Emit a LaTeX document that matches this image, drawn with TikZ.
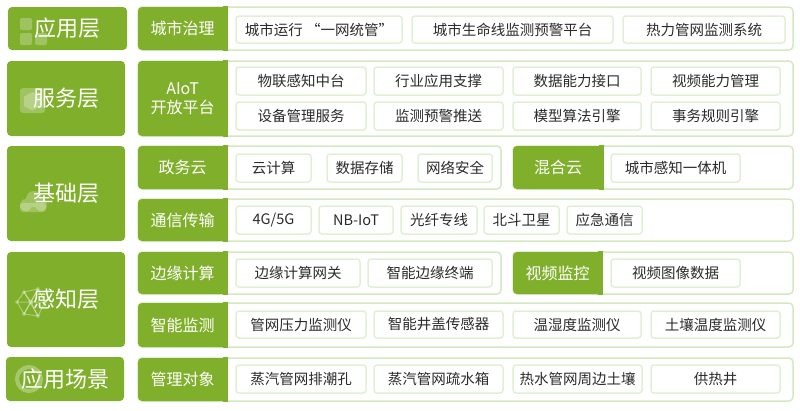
\documentclass[tikz,border=0pt]{standalone}
\usepackage{fontspec}
\setmainfont{Noto Sans CJK SC}
\definecolor{lg}{HTML}{80B02B}
\definecolor{pb}{HTML}{D3EAC0}
\definecolor{ib}{HTML}{E1F0D4}
\definecolor{tx}{HTML}{2B2B2B}
\tikzset{
 layer/.style={fill=lg, rounded corners=4pt, inner sep=0pt, outer sep=0pt, text=white, font=\fontsize{22}{24}\selectfont},
 panel/.style={draw=pb, line width=1.5pt, fill=white, rounded corners=4pt, inner sep=0pt, outer sep=0pt},
 lab/.style={fill=lg, rounded corners=4pt, inner sep=0pt, outer sep=0pt, text=white, font=\fontsize{16}{19}\selectfont, align=center},
 item/.style={draw=ib, line width=1.5pt, fill=white, rounded corners=3pt, inner sep=0pt, outer sep=0pt, text=tx, font=\fontsize{14.5}{17}\selectfont},
 icon/.style={fill=white, fill opacity=0.25, draw=none},
}
\newcommand\boxat[7]{%
 \node[#1, minimum width={(#5-#3)*1pt}, minimum height={(#6-#4)*1pt}] (#2) at ({(#3+#5)/2},{(#4+#6)/2}) {#7};}
\newcommand\labat[6]{%
 \boxat{lab}{#1}{#2-0.75}{#3-0.75}{#4}{#5+0.75}{#6}%
 \fill[lg] ({#4-5},{#3-0.75}) rectangle (#4,{#5+0.75});}
\begin{document}
\begin{tikzpicture}[x=1pt,y=-1pt]
\useasboundingbox[fill=white] (0,0) rectangle (800,410);

% ---------- layer boxes ----------
\boxat{layer}{L1}{8}{7}{127}{50}{}
\boxat{layer}{L2}{7}{61}{125}{136}{}
\boxat{layer}{L3}{7}{146}{125}{241}{}
\boxat{layer}{L4}{7}{252}{125}{347}{}
\boxat{layer}{L5}{6}{357}{124}{401}{}

% icons
\fill[icon, rounded corners=2pt] (20,18) rectangle (32,30);
\fill[icon, rounded corners=2pt] (20,33) rectangle (32,45);
\fill[icon, rounded corners=2pt] (35,33) rectangle (47,45);
\fill[icon, rounded corners=3pt] (20,88) rectangle (45,113);
\fill[icon] (32.5,92) -- (41,96.5) -- (41,106) -- (32.5,110.5) -- (24,106) -- (24,96.5) -- cycle;
\fill[icon] (26,205) circle (6) (34,199) circle (8) (41,205) circle (6);
\fill[icon, rounded corners=3pt] (20,203) rectangle (46,212);
\begin{scope}[draw=white, draw opacity=0.35, line width=1pt]
 \draw (24,292) -- (38,289) -- (45,302) -- (38,316) -- (24,314) -- (17,302) -- cycle;
 \draw (24,292) -- (31,302) -- (38,289) (45,302) -- (31,302) -- (38,316) (24,314) -- (31,302) -- (17,302);
 \draw (24,292) -- (38,316) (38,289) -- (24,314);
\end{scope}
\fill[icon] (31,302) circle (2.5) (24,292) circle (2) (38,289) circle (2) (45,302) circle (2) (38,316) circle (2) (24,314) circle (2) (17,302) circle (2);
\draw[white, draw opacity=0.3, line width=4pt] (29,379) circle (12);

\node[text=white, font=\fontsize{22}{24}\selectfont] (T1) at (L1) {应用层};
\node[text=white, font=\fontsize{22}{24}\selectfont] (T2) at (L2) {服务层};
\node[text=white, font=\fontsize{22}{24}\selectfont] (T3) at (L3) {基础层};
\node[text=white, font=\fontsize{22}{24}\selectfont] (T4) at (L4) {感知层};
\node[text=white, font=\fontsize{22}{24}\selectfont] (T5) at (L5) {应用场景};

% ---------- row 1: 城市治理 ----------
\boxat{panel}{P1}{138}{7}{793}{50}{}
\labat{A1}{138}{7}{228}{50}{城市治理}
\boxat{item}{I11}{236}{16}{402}{43}{城市运行 “一网统管”}
\boxat{item}{I12}{412}{16}{613}{43}{城市生命线监测预警平台}
\boxat{item}{I13}{623}{16}{785}{43}{热力管网监测系统}

% ---------- row 2: AIoT ----------
\boxat{panel}{P2}{138}{61}{793}{136}{}
\labat{A2}{138}{61}{228}{136}{AIoT\\开放平台}
\boxat{item}{I21}{236}{67}{366}{95}{物联感知中台}
\boxat{item}{I22}{374}{67}{503}{95}{行业应用支撑}
\boxat{item}{I23}{513}{67}{641}{95}{数据能力接口}
\boxat{item}{I24}{651}{67}{780}{95}{视频能力管理}
\boxat{item}{I25}{236}{102}{366}{130}{设备管理服务}
\boxat{item}{I26}{374}{102}{503}{130}{监测预警推送}
\boxat{item}{I27}{513}{102}{641}{130}{模型算法引擎}
\boxat{item}{I28}{651}{102}{780}{130}{事务规则引擎}

% ---------- row 3: 政务云 / 混合云 ----------
\boxat{panel}{P3}{138}{146}{501}{189}{}
\labat{A3}{138}{146}{228}{189}{政务云}
\boxat{item}{I31}{236}{154}{311}{182}{云计算}
\boxat{item}{I32}{327}{154}{402}{182}{数据存储}
\boxat{item}{I33}{418}{154}{492}{182}{网络安全}
\boxat{panel}{P4}{513}{146}{793}{189}{}
\labat{A4}{513}{146}{604}{189}{混合云}
\boxat{item}{I41}{611}{154}{740}{182}{城市感知一体机}

% ---------- row 4: 通信传输 ----------
\boxat{panel}{P5}{138}{199}{793}{241}{}
\labat{A5}{138}{199}{228}{241}{通信传输}
\boxat{item}{I51}{236}{206}{311}{234}{4G/5G}
\boxat{item}{I52}{319}{206}{393}{234}{NB-IoT}
\boxat{item}{I53}{401}{206}{477}{234}{光纤专线}
\boxat{item}{I54}{484}{206}{559}{234}{北斗卫星}
\boxat{item}{I55}{567}{206}{642}{234}{应急通信}

% ---------- row 5: 边缘计算 / 视频监控 ----------
\boxat{panel}{P6}{138}{252}{501}{294}{}
\labat{A6}{138}{252}{228}{294}{边缘计算}
\boxat{item}{I61}{236}{259}{360}{287}{边缘计算网关}
\boxat{item}{I62}{368}{259}{492}{287}{智能边缘终端}
\boxat{panel}{P7}{513}{252}{793}{294}{}
\labat{A7}{513}{252}{603}{294}{视频监控}
\boxat{item}{I71}{611}{259}{740}{287}{视频图像数据}

% ---------- row 6: 智能监测 ----------
\boxat{panel}{P8}{138}{303}{793}{347}{}
\labat{A8}{138}{303}{228}{347}{智能监测}
\boxat{item}{I81}{236}{311}{366}{338}{管网压力监测仪}
\boxat{item}{I82}{374}{311}{503}{338}{智能井盖传感器}
\boxat{item}{I83}{513}{311}{641}{338}{温湿度监测仪}
\boxat{item}{I84}{651}{311}{780}{338}{土壤温度监测仪}

% ---------- row 7: 管理对象 ----------
\boxat{panel}{P9}{138}{358}{793}{401}{}
\labat{A9}{138}{358}{228}{401}{管理对象}
\boxat{item}{I91}{236}{365}{366}{393}{蒸汽管网排潮孔}
\boxat{item}{I92}{374}{365}{503}{393}{蒸汽管网疏水箱}
\boxat{item}{I93}{513}{365}{642}{393}{热水管网周边土壤}
\boxat{item}{I94}{651}{365}{780}{393}{供热井}
\end{tikzpicture}
\end{document}
